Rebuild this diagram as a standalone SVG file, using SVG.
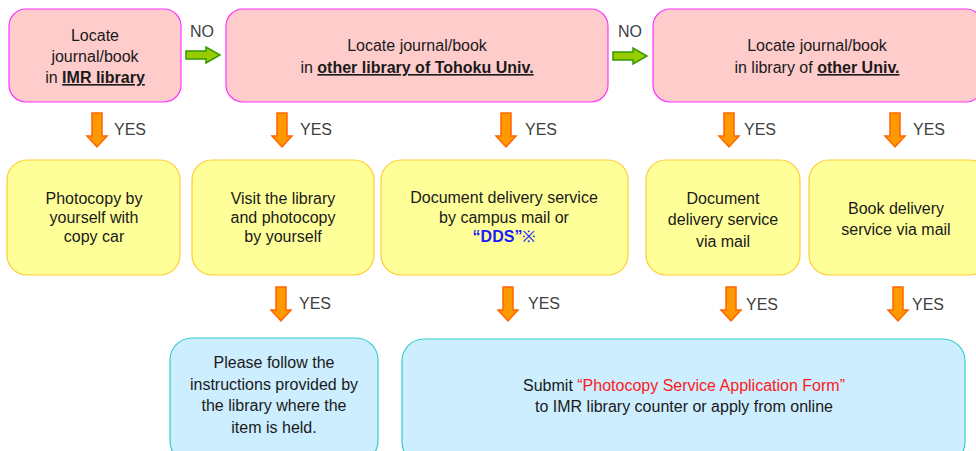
<svg xmlns="http://www.w3.org/2000/svg" width="976" height="451" viewBox="0 0 976 451">
<style>
text{font-family:"Liberation Sans",Arial,sans-serif;font-size:16px;fill:#1a1a1a;text-anchor:middle}
.lbl{fill:#404040;text-anchor:start}
.pink{fill:#ffcccc;stroke:#ff33ff;stroke-width:1.2}
.yel{fill:#ffff99;stroke:#ffcc33;stroke-width:1.2}
.blue{fill:#cceeff;stroke:#33cccc;stroke-width:1.2}
.b{font-weight:bold;text-decoration:underline}
.garrow{fill:#99cc00;stroke:#339900;stroke-width:1.5}
.oarrow{fill:#ff9900;stroke:#ff6600;stroke-width:1.5}
</style>
<defs>
<path id="down" class="oarrow" d="M-5,0 H5 V23 H10 L0,34 L-10,23 H-5 Z"/>
<path id="right" class="garrow" d="M0,-4 H20 V-8 L34,0 L20,8 V4 H0 Z"/>
</defs>
<rect width="976" height="451" fill="#ffffff"/>
<g id="connectors">
<use href="#right" x="186" y="55"/>
<use href="#right" x="613" y="56"/>
<text class="lbl" x="190" y="37">NO</text>
<text class="lbl" x="618" y="37">NO</text>
<use href="#down" x="97" y="113"/>
<use href="#down" x="282" y="113"/>
<use href="#down" x="506" y="113"/>
<use href="#down" x="729" y="113"/>
<use href="#down" x="895" y="113"/>
<text class="lbl" x="114" y="135">YES</text>
<text class="lbl" x="300" y="135">YES</text>
<text class="lbl" x="525" y="135">YES</text>
<text class="lbl" x="744" y="135">YES</text>
<text class="lbl" x="913" y="135">YES</text>
<use href="#down" x="281" y="287"/>
<use href="#down" x="508" y="287"/>
<use href="#down" x="731" y="287"/>
<use href="#down" x="898" y="287"/>
<text class="lbl" x="299" y="309">YES</text>
<text class="lbl" x="528" y="309">YES</text>
<text class="lbl" x="746" y="310">YES</text>
<text class="lbl" x="912" y="310">YES</text>
</g>
<g id="n-imr">
<rect class="pink" x="9" y="9" width="172" height="93" rx="17"/>
<text x="95" y="41">Locate</text>
<text x="95" y="62">journal/book</text>
<text x="95" y="83">in <tspan class="b">IMR library</tspan></text>
</g>
<g id="n-tohoku">
<rect class="pink" x="226" y="9" width="382" height="93" rx="17"/>
<text x="417" y="51">Locate journal/book</text>
<text x="417" y="73">in <tspan class="b">other library of Tohoku Univ.</tspan></text>
</g>
<g id="n-other">
<rect class="pink" x="653" y="9" width="330" height="93" rx="17"/>
<text x="817" y="51">Locate journal/book</text>
<text x="817" y="73">in library of <tspan class="b">other Univ.</tspan></text>
</g>
<g id="n-copycar">
<rect class="yel" x="7" y="160" width="173" height="115" rx="20"/>
<text x="94" y="204">Photocopy by</text>
<text x="94" y="223">yourself with</text>
<text x="94" y="242">copy car</text>
</g>
<g id="n-visit">
<rect class="yel" x="192" y="160" width="182" height="115" rx="20"/>
<text x="283" y="204">Visit the library</text>
<text x="283" y="223">and photocopy</text>
<text x="283" y="242">by yourself</text>
</g>
<g id="n-dds">
<rect class="yel" x="381" y="160" width="247" height="115" rx="20"/>
<text x="504" y="203">Document delivery service</text>
<text x="504" y="223">by campus mail or</text>
<text x="504" y="242"><tspan style="font-weight:bold;fill:#1a1aff">“DDS”</tspan><tspan style="fill:#1a1aff">※</tspan></text>
</g>
<g id="n-docmail">
<rect class="yel" x="646" y="160" width="154" height="115" rx="20"/>
<text x="723" y="204">Document</text>
<text x="723" y="225">delivery service</text>
<text x="723" y="247">via mail</text>
</g>
<g id="n-bookmail">
<rect class="yel" x="809" y="160" width="180" height="115" rx="20"/>
<text x="896" y="214">Book delivery</text>
<text x="896" y="235">service via mail</text>
</g>
<g id="n-follow">
<rect class="blue" x="170" y="338" width="208" height="125" rx="22"/>
<text x="274" y="368">Please follow the</text>
<text x="274" y="390">instructions provided by</text>
<text x="274" y="411">the library where the</text>
<text x="274" y="433">item is held.</text>
</g>
<g id="n-submit">
<rect class="blue" x="402" y="339" width="563" height="125" rx="22"/>
<text x="684" y="391">Submit <tspan style="fill:#ff1a1a">“Photocopy Service Application Form”</tspan></text>
<text x="684" y="412">to IMR library counter or apply from online</text>
</g>
</svg>
